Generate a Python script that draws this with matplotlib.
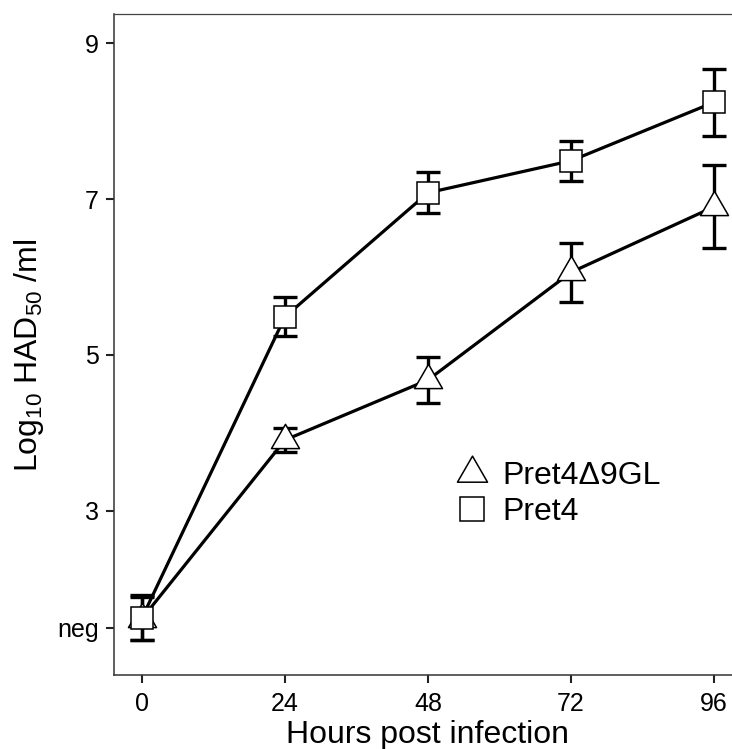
import matplotlib
matplotlib.use("Agg")
import matplotlib.pyplot as plt
from matplotlib.path import Path
from matplotlib.lines import Line2D

plt.rcParams['font.family'] = ['Liberation Sans', 'DejaVu Sans']
plt.rcParams['mathtext.default'] = 'regular'

# data (log10 HAD50/ml, mean and half error bar)
hours = [0, 24, 48, 72, 96]
pret4 = [1.63, 5.49, 7.08, 7.49, 8.24]
pret4_err = [0.29, 0.25, 0.26, 0.26, 0.43]
pret4_d9gl = [1.62, 3.91, 4.68, 6.06, 6.90]
pret4_d9gl_err = [0.28, 0.15, 0.29, 0.38, 0.53]

ytick_vals = [1.5, 3, 5, 7, 9]
ytick_labels = ['neg', '3', '5', '7', '9']
xtick_vals = [0, 24, 48, 72, 96]

# triangle centred on its centroid, like R's pch 2
tri = Path([(0, 0.577), (-0.5, -0.289), (0.5, -0.289), (0, 0.577)],
           [Path.MOVETO, Path.LINETO, Path.LINETO, Path.CLOSEPOLY])

fig = plt.figure(figsize=(7.32, 7.49), dpi=100)
ax = fig.add_axes([114 / 732, 1 - 675 / 749, 628 / 732, 661 / 749])

for y, err in [(pret4_d9gl, pret4_d9gl_err), (pret4, pret4_err)]:
    ax.plot(hours, y, color='black', lw=2.3, zorder=2)
    ax.errorbar(hours, y, yerr=err, fmt='none', ecolor='black',
                elinewidth=2.4, capsize=8.5, capthick=2.4, zorder=3)

ax.plot(hours, pret4_d9gl, ls='none', marker=tri, ms=23.3, mfc='white',
        mec='black', mew=1.1, zorder=4)
ax.plot(hours, pret4, ls='none', marker='s', ms=15.5, mfc='white',
        mec='black', mew=1.1, zorder=5)

ax.set_xlim(-4.7, 100.7)
ax.set_ylim(0.897, 9.372)
ax.set_xticks(xtick_vals)
ax.set_yticks(ytick_vals)
ax.set_yticklabels(ytick_labels)
ax.tick_params(labelsize=18, length=6, width=1.5, color='#222222',
               labelcolor='black')
ax.tick_params(axis='y', pad=5)
ax.tick_params(axis='x', pad=6.5)

for side in ['left', 'bottom']:
    ax.spines[side].set_linewidth(1.1)
    ax.spines[side].set_color('#333333')
ax.spines['top'].set_linewidth(0.9)
ax.spines['top'].set_color('#444444')
ax.spines['right'].set_visible(False)

ax.set_xlabel('Hours post infection', fontsize=23)
ax.xaxis.set_label_coords(0.5, -0.068)
ax.set_ylabel('Log$_{10}$ HAD$_{50}$ /ml', fontsize=23)
ax.yaxis.set_label_coords(-0.108, 0.484)

handles = [
    Line2D([], [], ls='none', marker=tri, ms=25, mfc='white', mec='black', mew=1.1),
    Line2D([], [], ls='none', marker='s', ms=17.5, mfc='white', mec='black', mew=1.1),
]
ax.legend(handles, ['Pret4\u03949GL', 'Pret4'], loc='upper left',
          bbox_to_anchor=(456 / 732, 1 - 461 / 749), bbox_transform=fig.transFigure,
          frameon=False, fontsize=23, handlelength=1.0, handletextpad=0.45,
          borderpad=0, borderaxespad=0, labelspacing=0.2)

fig.savefig('out.png', dpi=100)
